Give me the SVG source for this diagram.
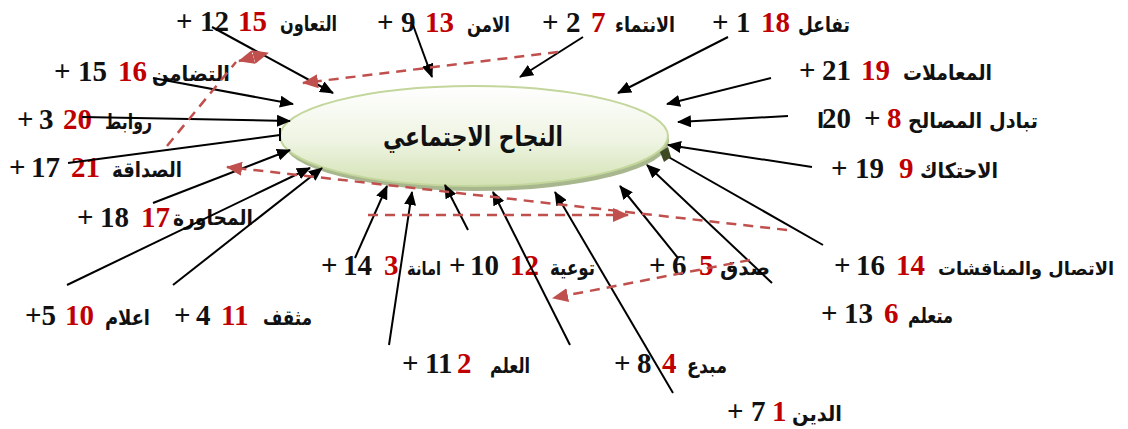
<svg xmlns="http://www.w3.org/2000/svg" width="1128" height="429" viewBox="0 0 1128 429">
<style>
.n{font-family:'Liberation Serif','Times New Roman',serif;font-weight:bold;font-size:29px;fill:#111}
.r{fill:#c00000}
.a{font-family:'DejaVu Sans',sans-serif;font-weight:bold;font-size:21px;fill:#111}
.s{font-size:18px}
.t{font-family:'DejaVu Sans',sans-serif;font-weight:bold;font-size:27px;fill:#111}
.ln{stroke:#000;stroke-width:2;fill:none;marker-end:url(#ah)}
.lp{stroke:#000;stroke-width:2;fill:none}
.ds{stroke:#c0504d;stroke-width:2.5;stroke-dasharray:10 7;fill:none}
.da{marker-end:url(#rh)}
</style>
<defs>
<linearGradient id="eg" x1="0" y1="0" x2="0" y2="1">
<stop offset="0" stop-color="#ffffff"/>
<stop offset="0.55" stop-color="#eef4e2"/>
<stop offset="1" stop-color="#d3e1b3"/>
</linearGradient>
<marker id="ah" viewBox="0 0 14 12" refX="13" refY="6" markerWidth="14" markerHeight="12" markerUnits="userSpaceOnUse" orient="auto"><path d="M0,0 L14,6 L0,12 z" fill="#000"/></marker>
<marker id="rh" viewBox="0 0 16 14" refX="15" refY="7" markerWidth="16" markerHeight="14" markerUnits="userSpaceOnUse" orient="auto-start-reverse"><path d="M0,0 L16,7 L0,14 z" fill="#c0504d"/></marker>
</defs>
<rect width="1128" height="429" fill="#fff"/>

<g id="center">
<ellipse cx="476" cy="141" rx="193" ry="50" fill="#a8b78e"/>
<ellipse cx="474" cy="136" rx="194" ry="50" fill="url(#eg)" stroke="#c3d69b" stroke-width="2"/>
<text class="t" x="383" y="146" textLength="180" lengthAdjust="spacingAndGlyphs">النجاح الاجتماعي</text>
</g>

<g id="n-taawun"><text class="n" x="176" y="31">+</text><text class="n" x="200" y="31">12</text><text class="n r" x="238" y="31">15</text><text class="a" x="280" y="31" textLength="57" lengthAdjust="spacingAndGlyphs">التعاون</text></g>
<g id="n-amn"><text class="n" x="377" y="32">+</text><text class="n" x="401" y="32">9</text><text class="n r" x="425" y="32">13</text><text class="a" x="467" y="32" textLength="43" lengthAdjust="spacingAndGlyphs">الامن</text></g>
<g id="n-intimaa"><text class="n" x="542" y="32">+</text><text class="n" x="566" y="32">2</text><text class="n r" x="591" y="32">7</text><text class="a" x="615" y="32" textLength="60" lengthAdjust="spacingAndGlyphs">الانتماء</text></g>
<g id="n-tafaul"><text class="n" x="712" y="32">+</text><text class="n" x="736" y="32">1</text><text class="n r" x="761" y="32">18</text><text class="a" x="798" y="32" textLength="52" lengthAdjust="spacingAndGlyphs">تفاعل</text></g>
<g id="n-muamalat"><text class="n" x="799" y="80">+</text><text class="n" x="822" y="80">21</text><text class="n r" x="861" y="80">19</text><text class="a" x="903" y="80" textLength="89" lengthAdjust="spacingAndGlyphs">المعاملات</text></g>
<g id="n-tabadul"><text class="a" x="817" y="128">ا</text><text class="n" x="822" y="128">20</text><text class="n" x="864" y="128">+</text><text class="n r" x="887" y="128">8</text><text class="a" x="908" y="128" textLength="130" lengthAdjust="spacingAndGlyphs">تبادل المصالح</text></g>
<g id="n-ihtikak"><text class="n" x="831" y="178">+</text><text class="n" x="855" y="178">19</text><text class="n r" x="899" y="178">9</text><text class="a" x="920" y="178" textLength="78" lengthAdjust="spacingAndGlyphs">الاحتكاك</text></g>
<g id="n-ittisal"><text class="n" x="834" y="275">+</text><text class="n" x="856" y="275">16</text><text class="n r" x="896" y="275">14</text><text class="a s" x="938" y="275" textLength="176" lengthAdjust="spacingAndGlyphs">الاتصال والمناقشات</text></g>
<g id="n-mutaallim"><text class="n" x="821" y="323">+</text><text class="n" x="844" y="323">13</text><text class="n r" x="884" y="323">6</text><text class="a" x="908" y="323" textLength="45" lengthAdjust="spacingAndGlyphs">متعلم</text></g>
<g id="n-sidq"><text class="n" x="649" y="275">+</text><text class="n" x="672" y="275">6</text><text class="n r" x="699" y="275">5</text><text class="a" x="720" y="275" textLength="50" lengthAdjust="spacingAndGlyphs">صدق</text></g>
<g id="n-tawiya"><text class="n" x="449" y="275">+</text><text class="n" x="470" y="275">10</text><text class="n r" x="510" y="275">12</text><text class="a" x="550" y="275" textLength="45" lengthAdjust="spacingAndGlyphs">توعية</text></g>
<g id="n-amana"><text class="n" x="321" y="275">+</text><text class="n" x="343" y="275">14</text><text class="n r" x="384" y="275">3</text><text class="a s" x="407" y="275" textLength="34" lengthAdjust="spacingAndGlyphs">امانة</text></g>
<g id="n-ilm"><text class="n" x="402" y="373">+</text><text class="n" x="425" y="373">11</text><text class="n r" x="457" y="373">2</text><text class="a" x="490" y="373" textLength="40" lengthAdjust="spacingAndGlyphs">العلم</text></g>
<g id="n-mubdi"><text class="n" x="614" y="373">+</text><text class="n" x="637" y="373">8</text><text class="n r" x="662" y="373">4</text><text class="a" x="687" y="373" textLength="40" lengthAdjust="spacingAndGlyphs">مبدع</text></g>
<g id="n-din"><text class="n" x="727" y="421">+</text><text class="n" x="751" y="421">7</text><text class="n r" x="772" y="421">1</text><text class="a" x="792" y="421" textLength="50" lengthAdjust="spacingAndGlyphs">الدين</text></g>
<g id="n-tadamun"><text class="n" x="54" y="81">+</text><text class="n" x="78" y="81">15</text><text class="n r" x="118" y="81">16</text><text class="a" x="152" y="81" textLength="78" lengthAdjust="spacingAndGlyphs">التضامن</text></g>
<g id="n-rawabit"><text class="n" x="17" y="129">+</text><text class="n" x="39" y="129">3</text><text class="n r" x="63" y="129">20</text><text class="a" x="105" y="129" textLength="47" lengthAdjust="spacingAndGlyphs">روابط</text></g>
<g id="n-sadaqa"><text class="n" x="9" y="177">+</text><text class="n" x="31" y="177">17</text><text class="n r" x="71" y="177">21</text><text class="a" x="112" y="177" textLength="70" lengthAdjust="spacingAndGlyphs">الصداقة</text></g>
<g id="n-muhawara"><text class="n" x="77" y="227">+</text><text class="n" x="100" y="227">18</text><text class="n r" x="141" y="227">17</text><text class="a" x="173" y="225" textLength="80" lengthAdjust="spacingAndGlyphs">المحاورة</text></g>
<g id="n-ilam"><text class="n" x="25" y="325">+5</text><text class="n r" x="65" y="325">10</text><text class="a" x="105" y="325" textLength="45" lengthAdjust="spacingAndGlyphs">اعلام</text></g>
<g id="n-muthaqqaf"><text class="n" x="174" y="325">+</text><text class="n" x="196" y="325">4</text><text class="n r" x="221" y="325">11</text><text class="a" x="263" y="325" textLength="49" lengthAdjust="spacingAndGlyphs">مثقف</text></g>

<g id="connectors">
<line class="ln" x1="212" y1="27" x2="333" y2="93"/>
<line class="ln" x1="413" y1="25" x2="432" y2="77"/>
<line class="ln" x1="583" y1="37" x2="520" y2="77"/>
<line class="ln" x1="728" y1="37" x2="618" y2="93"/>
<line class="ln" x1="771" y1="78" x2="667" y2="104"/>
<line class="ln" x1="788" y1="116" x2="678" y2="122"/>
<line class="ln" x1="812" y1="167" x2="668" y2="145"/>
<line class="lp" x1="823" y1="245" x2="665" y2="155"/>
<path d="M660,152 L668,147 L671,157 L664,162 z" fill="#3d4a22"/>
<line class="ln" x1="772" y1="283" x2="647" y2="165"/>
<line class="ln" x1="678" y1="258" x2="620" y2="186"/>
<line class="ln" x1="673" y1="393" x2="555" y2="192"/>
<line class="ln" x1="570" y1="345" x2="493" y2="192"/>
<line class="ln" x1="468" y1="230" x2="445" y2="185"/>
<line class="ln" x1="389" y1="345" x2="412" y2="192"/>
<line class="ln" x1="355" y1="258" x2="387" y2="186"/>
<line class="ln" x1="173" y1="285" x2="322" y2="168"/>
<line class="ln" x1="67" y1="285" x2="310" y2="168"/>
<line class="ln" x1="153" y1="203" x2="290" y2="150"/>
<line class="lp" x1="68" y1="163" x2="280" y2="135"/>
<line class="lp" x1="280" y1="128" x2="280" y2="141"/>
<line class="ln" x1="82" y1="117" x2="290" y2="121"/>
<line class="ln" x1="153" y1="78" x2="293" y2="104"/>
<line class="ds da" x1="558" y1="52" x2="303" y2="83"/>
<line class="ds" x1="167" y1="146" x2="236" y2="62"/>
<line class="ds da" x1="239" y1="61" x2="268" y2="53" marker-start="url(#rh)"/>
<line class="ds da" x1="787" y1="230" x2="227" y2="167"/>
<line class="ds da" x1="368" y1="215" x2="628" y2="215"/>
<line class="ds da" x1="750" y1="260" x2="553" y2="298"/>
</g>
</svg>
